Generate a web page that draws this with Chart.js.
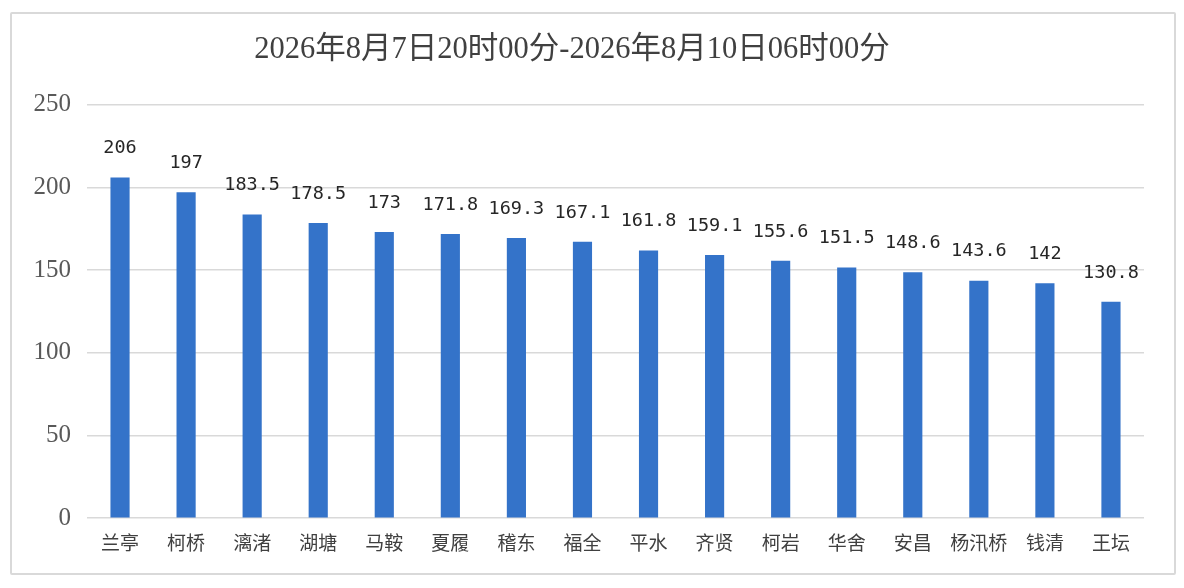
<!DOCTYPE html>
<html>
<head>
<meta charset="utf-8">
<script src="https://cdn.jsdelivr.net/npm/chart.js@4"></script>
<style>
  html, body { margin: 0; padding: 0; background: #fff; }
  #wrap { position: relative; width: 1184px; height: 588px; }
  #frame {
    position: absolute; left: 10px; top: 12px; width: 1162px; height: 559px;
    border: 2px solid #d9d9d9; border-radius: 2px; pointer-events: none;
  }
  canvas { position: absolute; left: 0; top: 0; }
</style>
</head>
<body>
<div id="wrap">
  <canvas id="c" width="1184" height="588"></canvas>
  <div id="frame"></div>
</div>
<script>
const titleText = '2026年8月7日20时00分-2026年8月10日06时00分';
const stations = ['兰亭', '柯桥', '漓渚', '湖塘', '马鞍', '夏履', '稽东', '福全',
  '平水', '齐贤', '柯岩', '华舍', '安昌', '杨汛桥', '钱清', '王坛'];
const rainfall = [206, 197, 183.5, 178.5, 173, 171.8, 169.3, 167.1,
  161.8, 159.1, 155.6, 151.5, 148.6, 143.6, 142, 130.8];
const yTicks = [0, 50, 100, 150, 200, 250];

const barColor = '#3473c9';
const gridColor = '#d9d9d9';

// value labels above each bar
const valueLabels = {
  id: 'valueLabels',
  afterDatasetsDraw(chart) {
    const ctx = chart.ctx;
    const meta = chart.getDatasetMeta(0);
    ctx.save();
    ctx.font = '18.5px "DejaVu Sans Mono", monospace';
    ctx.fillStyle = '#262626';
    ctx.textAlign = 'center';
    ctx.textBaseline = 'middle';
    meta.data.forEach((bar, i) => {
      ctx.fillText(String(rainfall[i]), bar.x, bar.y - 29);
    });
    ctx.restore();
  }
};

new Chart(document.getElementById('c'), {
  type: 'bar',
  data: {
    labels: stations,
    datasets: [{
      data: rainfall,
      backgroundColor: barColor,
      barPercentage: 0.29,
      categoryPercentage: 1
    }]
  },
  options: {
    responsive: false,
    animation: false,
    devicePixelRatio: 1,
    layout: { padding: { left: 0, right: 40, top: 0, bottom: 21 } },
    plugins: {
      legend: { display: false },
      tooltip: { enabled: false },
      title: {
        display: true,
        text: titleText,
        color: '#404040',
        font: { family: '"Liberation Serif", "Noto Sans CJK SC", serif', size: 30.5, weight: 'normal' },
        padding: { top: 32, bottom: 36 }
      }
    },
    scales: {
      x: {
        grid: { display: false, drawTicks: false },
        border: { display: false },
        ticks: {
          color: '#404040',
          padding: 13,
          maxRotation: 0,
          autoSkip: false,
          font: { family: '"Noto Sans CJK SC", sans-serif', size: 19 }
        }
      },
      y: {
        min: 0,
        max: 250,
        afterFit(scale) { scale.width = 87; },
        afterBuildTicks(scale) { scale.ticks = yTicks.map(v => ({ value: v })); },
        grid: { color: gridColor, lineWidth: 1.5, drawTicks: false },
        border: { display: false },
        ticks: {
          color: '#595959',
          padding: 16,
          font: { family: '"Liberation Serif", serif', size: 25 }
        }
      }
    }
  },
  plugins: [valueLabels]
});
</script>
</body>
</html>
